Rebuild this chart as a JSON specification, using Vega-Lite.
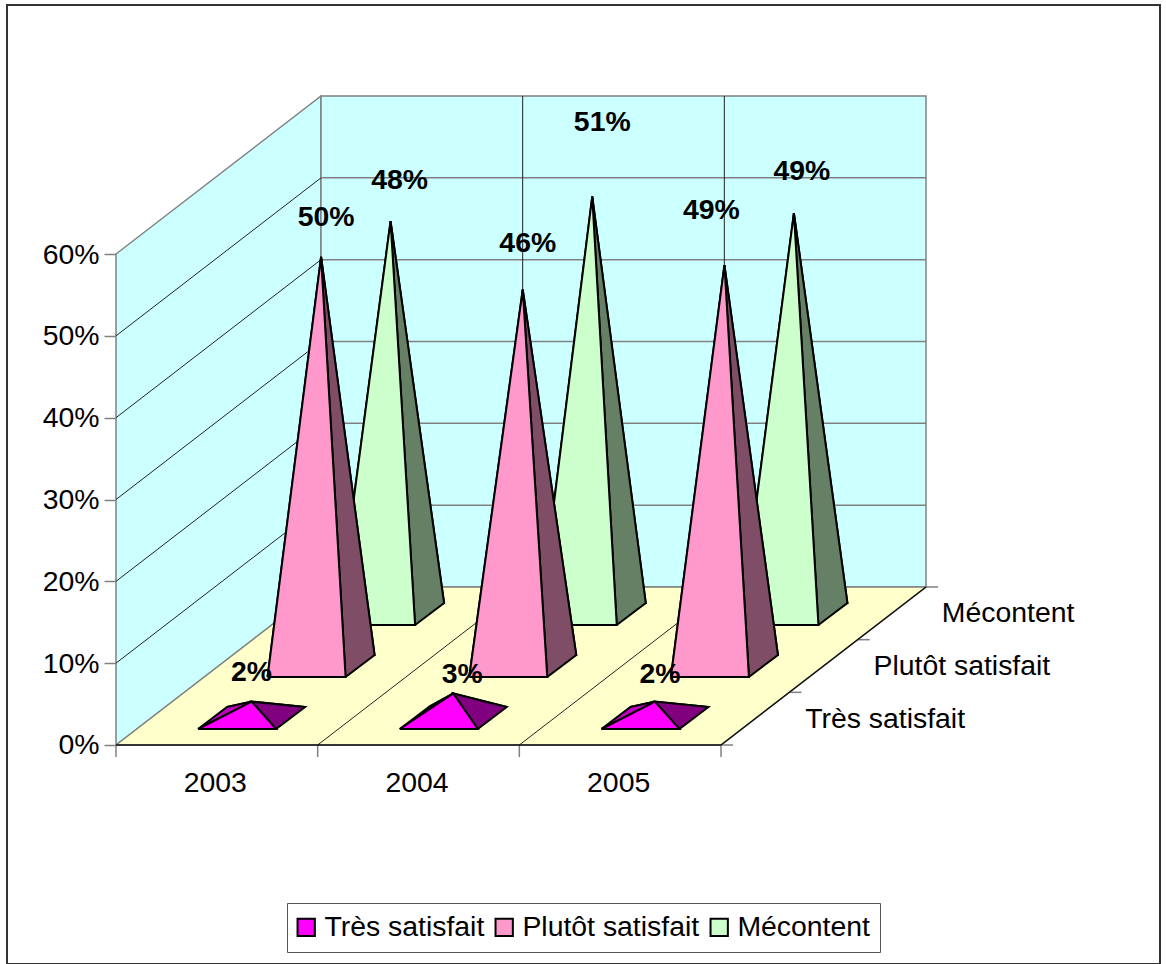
{
"$schema":"https://vega.github.io/schema/vega-lite/v6.json",
"autosize":"none",
"width":1153,"height":959,
"padding":{"left":7,"top":5,"right":6,"bottom":0},
"background":"white",
"view":{"stroke":"#333333","strokeWidth":2,"fill":"white"},
"config":{"font":"Liberation Sans"},
"datasets":{
"bars":[
{"year":"2003","series":"Mécontent","value":0.48},
{"year":"2004","series":"Mécontent","value":0.51},
{"year":"2005","series":"Mécontent","value":0.49},
{"year":"2003","series":"Plutôt satisfait","value":0.50},
{"year":"2004","series":"Plutôt satisfait","value":0.46},
{"year":"2005","series":"Plutôt satisfait","value":0.49},
{"year":"2003","series":"Très satisfait","value":0.02},
{"year":"2004","series":"Très satisfait","value":0.03},
{"year":"2005","series":"Très satisfait","value":0.02}
],
"scene":[
{"part":"wall","id":"left","pts":[[0,0,0],[0,0,0.6],[0,3,0.6],[0,3,0],[0,0,0]]},
{"part":"wall","id":"back","pts":[[0,3,0],[0,3,0.6],[3,3,0.6],[3,3,0],[0,3,0]]},
{"part":"floor","id":"floor","pts":[[0,0,0],[3,0,0],[3,3,0],[0,3,0],[0,0,0]]},
{"part":"black","id":"l1","pts":[[0,0,0.1],[0,3,0.1]]},
{"part":"black","id":"l2","pts":[[0,0,0.2],[0,3,0.2]]},
{"part":"black","id":"l3","pts":[[0,0,0.3],[0,3,0.3]]},
{"part":"black","id":"l4","pts":[[0,0,0.4],[0,3,0.4]]},
{"part":"black","id":"l5","pts":[[0,0,0.5],[0,3,0.5]]},
{"part":"black","id":"f1","pts":[[1,0,0],[1,3,0]]},
{"part":"black","id":"f2","pts":[[2,0,0],[2,3,0]]},
{"part":"black","id":"v1","pts":[[1,3,0],[1,3,0.6]]},
{"part":"black","id":"v2","pts":[[2,3,0],[2,3,0.6]]},
{"part":"gray","id":"b1","pts":[[0,3,0.1],[3,3,0.1]]},
{"part":"gray","id":"b2","pts":[[0,3,0.2],[3,3,0.2]]},
{"part":"gray","id":"b3","pts":[[0,3,0.3],[3,3,0.3]]},
{"part":"gray","id":"b4","pts":[[0,3,0.4],[3,3,0.4]]},
{"part":"gray","id":"b5","pts":[[0,3,0.5],[3,3,0.5]]},
{"part":"gray","id":"t0","pts":[[0,0,0],[0,0,-0.0147]]},
{"part":"gray","id":"t1","pts":[[1,0,0],[1,0,-0.0147]]},
{"part":"gray","id":"t2","pts":[[2,0,0],[2,0,-0.0147]]},
{"part":"gray","id":"t3","pts":[[3,0,0],[3,0,-0.0147]]},
{"part":"gray","id":"d0","pts":[[3,0,0],[3.06,0,0]]},
{"part":"gray","id":"d1","pts":[[3,1,0],[3.06,1,0]]},
{"part":"gray","id":"d2","pts":[[3,2,0],[3.06,2,0]]},
{"part":"gray","id":"d3","pts":[[3,3,0],[3.06,3,0]]},
{"part":"edge","id":"e1","pts":[[3,0,0],[3,3,0]]},
{"part":"edge","id":"e2","pts":[[0,0,0],[3,0,0]]}
],
"depthLabels":[
{"series":"Très satisfait","depth":0.5},
{"series":"Plutôt satisfait","depth":1.5},
{"series":"Mécontent","depth":2.5}
]
},
"encoding":{
"x":{"field":"sx","type":"quantitative","scale":{"domain":[-0.54049,5.17677],"nice":false,"zero":false},
"axis":{"title":null,"grid":false,"domain":false,"ticks":false,"values":[0.49,1.49,2.49],"labelExpr":"['2003','2004','2005'][floor(datum.value)]","labelFontSize":28.4,"labelFont":"Liberation Sans","labelColor":"black","labelPadding":24,"offset":-219,"labelBound":false,"labelFlush":false,"labelOverlap":false}},
"y":{"field":"sy","type":"quantitative","scale":{"domain":[-0.26763,0.90431],"nice":false,"zero":false},
"axis":{"title":null,"grid":false,"domain":false,"values":[0,0.1,0.2,0.3,0.4,0.5,0.6],"format":".0%","tickSize":12,"tickColor":"#808080","tickWidth":1.5,"labelFontSize":28.4,"labelFont":"Liberation Sans","labelColor":"black","labelPadding":5,"offset":-109,"labelBound":false,"labelFlush":false,"labelOverlap":false}}
},
"layer":[
{"data":{"name":"scene"},
"transform":[{"filter":"datum.part=='wall'"},{"flatten":["pts"]},{"window":[{"op":"row_number","as":"ord"}],"groupby":["id"]},{"calculate":"datum.pts[0]+0.33884*datum.pts[1]","as":"sx"},{"calculate":"datum.pts[2]+0.06436*datum.pts[1]","as":"sy"}],
"mark":{"type":"line","fill":"#CCFFFF","stroke":"#808080","strokeWidth":1.5,"strokeJoin":"miter"},
"encoding":{"detail":{"field":"id"},"order":{"field":"ord","type":"quantitative"}}},
{"data":{"name":"scene"},
"transform":[{"filter":"datum.part=='floor'"},{"flatten":["pts"]},{"window":[{"op":"row_number","as":"ord"}],"groupby":["id"]},{"calculate":"datum.pts[0]+0.33884*datum.pts[1]","as":"sx"},{"calculate":"datum.pts[2]+0.06436*datum.pts[1]","as":"sy"}],
"mark":{"type":"line","fill":"#FFFFCC","stroke":"#808080","strokeWidth":1.5,"strokeJoin":"miter"},
"encoding":{"detail":{"field":"id"},"order":{"field":"ord","type":"quantitative"}}},
{"data":{"name":"scene"},
"transform":[{"filter":"datum.part=='gray'"},{"flatten":["pts"]},{"window":[{"op":"row_number","as":"ord"}],"groupby":["id"]},{"calculate":"datum.pts[0]+0.33884*datum.pts[1]","as":"sx"},{"calculate":"datum.pts[2]+0.06436*datum.pts[1]","as":"sy"}],
"mark":{"type":"line","stroke":"#808080","strokeWidth":1.5},
"encoding":{"detail":{"field":"id"},"order":{"field":"ord","type":"quantitative"}}},
{"data":{"name":"scene"},
"transform":[{"filter":"datum.part=='black'"},{"flatten":["pts"]},{"window":[{"op":"row_number","as":"ord"}],"groupby":["id"]},{"calculate":"datum.pts[0]+0.33884*datum.pts[1]","as":"sx"},{"calculate":"datum.pts[2]+0.06436*datum.pts[1]","as":"sy"}],
"mark":{"type":"line","stroke":"#222222","strokeWidth":1},
"encoding":{"detail":{"field":"id"},"order":{"field":"ord","type":"quantitative"}}},
{"data":{"name":"scene"},
"transform":[{"filter":"datum.part=='edge'"},{"flatten":["pts"]},{"window":[{"op":"row_number","as":"ord"}],"groupby":["id"]},{"calculate":"datum.pts[0]+0.33884*datum.pts[1]","as":"sx"},{"calculate":"datum.pts[2]+0.06436*datum.pts[1]","as":"sy"}],
"mark":{"type":"line","stroke":"#111111","strokeWidth":1.5},
"encoding":{"detail":{"field":"id"},"order":{"field":"ord","type":"quantitative"}}},
{"data":{"name":"bars"},
"transform":[
{"calculate":"indexof(['2003','2004','2005'],datum.year)","as":"i"},
{"calculate":"indexof(['Très satisfait','Plutôt satisfait','Mécontent'],datum.series)","as":"d"},
{"calculate":"datum.i+0.5+0.3446*(datum.d+0.5)","as":"cx"},
{"calculate":"0.033+0.06355*datum.d","as":"cy"},
{"calculate":"datum.cy+datum.value","as":"top"},
{"calculate":"['back','left','right','front']","as":"face"},
{"flatten":["face"]},
{"calculate":"{back:['BL','A','BR','BL'],left:['FL','A','BL','FL'],right:['FR','BR','A','FR'],front:['FL','FR','A','FL']}[datum.face]","as":"corner"},
{"calculate":"[0,1,2,3]","as":"ord"},
{"flatten":["corner","ord"]},
{"calculate":"datum.corner=='A'?datum.cx:datum.cx+(datum.corner=='FL'?-0.2653:datum.corner=='FR'?0.1215:datum.corner=='BR'?0.2653:-0.1215)","as":"sx"},
{"calculate":"datum.corner=='A'?datum.top:datum.cy+((datum.corner=='FL'||datum.corner=='FR')?-0.01344:0.01344)","as":"sy"},
{"calculate":"datum.year+datum.series+datum.face","as":"fid"},
{"calculate":"datum.face=='front'?datum.series:datum.face=='left'?datum.series+' gauche':datum.series+' ombre'","as":"shade"}
],
"mark":{"type":"line","stroke":"black","strokeWidth":2,"strokeJoin":"miter"},
"encoding":{
"detail":{"field":"fid"},
"order":{"field":"ord","type":"quantitative"},
"fill":{"field":"shade","type":"nominal","scale":{
"domain":["Très satisfait","Plutôt satisfait","Mécontent","Très satisfait ombre","Très satisfait gauche","Plutôt satisfait ombre","Plutôt satisfait gauche","Mécontent ombre","Mécontent gauche"],
"range":["#FF00FF","#FF99CC","#CCFFCC","#800080","#C000C0","#804D66","#C073A0","#668066","#99C099"]},
"legend":{"values":["Très satisfait","Plutôt satisfait","Mécontent"],"title":null,"orient":"none","legendX":280,"legendY":898,"direction":"horizontal","columns":3,"symbolType":"square","symbolSize":300,"symbolOffset":-5,"symbolStrokeColor":"black","symbolStrokeWidth":2,"labelFont":"Liberation Sans","labelFontSize":28.4,"labelColor":"black","fillColor":"white","strokeColor":"#555555","padding":10,"columnPadding":6,"labelOffset":4,"labelLimit":300,"rowPadding":0}}
}},
{"data":{"name":"bars"},
"transform":[
{"calculate":"indexof(['2003','2004','2005'],datum.year)","as":"i"},
{"calculate":"indexof(['Très satisfait','Plutôt satisfait','Mécontent'],datum.series)","as":"d"},
{"calculate":"{'2003M':[9,41],'2003P':[5,40],'2003T':[0,30],'2004M':[10,75],'2004P':[5,47],'2004T':[9,19],'2005M':[8,42],'2005P':[-13,55],'2005T':[5,28]}[datum.year+substring(datum.series,0,1)]","as":"off"},
{"calculate":"datum.i+0.5+0.3446*(datum.d+0.5)+datum.off[0]/201.67","as":"sx"},
{"calculate":"0.033+0.06355*datum.d+datum.value+datum.off[1]/818.3","as":"sy"},
{"calculate":"format(datum.value,'.0%')","as":"lab"}
],
"mark":{"type":"text","font":"Liberation Sans","fontWeight":"bold","fontSize":28.4,"align":"center","baseline":"middle","color":"black"},
"encoding":{"text":{"field":"lab"}}},
{"data":{"name":"depthLabels"},
"transform":[
{"calculate":"3+0.33884*datum.depth","as":"sx"},
{"calculate":"0.06436*datum.depth","as":"sy"}
],
"mark":{"type":"text","font":"Liberation Sans","fontSize":28.4,"align":"left","baseline":"middle","dx":50,"color":"black"},
"encoding":{"text":{"field":"series"}}}
]
}
